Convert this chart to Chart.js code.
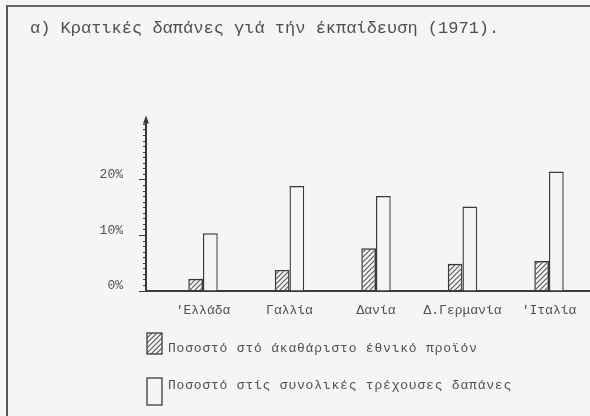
<!DOCTYPE html>
<html lang="el">
<head>
  <meta charset="UTF-8">
  <title>Κρατικές δαπάνες γιά τήν έκπαίδευση (1971)</title>
</head>
<style>
  body { margin: 0; background: #f5f5f3; }
  .sheet { position: relative; width: 590px; height: 416px; }
  .sheet::before {
    content: ''; position: absolute; left: 6px; top: 5px; right: 0; bottom: 0;
    border-left: 2px solid #555; border-top: 2px solid #666;
  }
</style>
<body>
<div class="sheet">
  <canvas id="eduChart" width="590" height="416"></canvas>
</div>

<script src="https://cdn.jsdelivr.net/npm/chart.js"></script>

<script>
  const TITLE = 'α) Κρατικές δαπάνες γιά τήν έκπαίδευση (1971).';
  const COUNTRIES = ["'Ελλάδα", 'Γαλλία', 'Δανία', 'Δ.Γερμανία', "'Ιταλία"];
  const GDP_SHARE = [2.2, 3.8, 7.7, 4.9, 5.4];          // % of GNP
  const BUDGET_SHARE = [10.4, 18.9, 17.1, 15.2, 21.5];  // % of total current spending
  const SERIES_NAMES = [
    'Ποσοστό στό άκαθάριστο έθνικό προϊόν',
    'Ποσοστό στίς συνολικές τρέχουσες δαπάνες'
  ];
  const Y_TICKS = [0, 10, 20];

  const FONT = "'Liberation Mono', 'DejaVu Sans Mono', monospace";
  const INK = '#3a3a3a';
  const TEXT = '#4f4f4f';

  function hatch() {
    const c = document.createElement('canvas');
    c.width = 5; c.height = 5;
    const g = c.getContext('2d');
    g.strokeStyle = '#555';
    g.lineWidth = 1.1;
    g.beginPath();
    g.moveTo(-1, 6); g.lineTo(6, -1);
    g.moveTo(-1, 1); g.lineTo(1, -1);
    g.moveTo(4, 6); g.lineTo(6, 4);
    g.stroke();
    return g.createPattern(c, 'repeat');
  }
  const HATCH = hatch();

  const toPoints = arr => arr.map((v, i) => ({ x: i + 1, y: v }));

  // arrow head on top of the y axis
  const axisArrow = {
    id: 'axisArrow',
    afterDraw(chart) {
      const { ctx, chartArea } = chart;
      const x = chartArea.left, y = chartArea.top;
      ctx.save();
      ctx.fillStyle = INK;
      ctx.strokeStyle = INK;
      ctx.lineWidth = 2;
      ctx.beginPath(); ctx.moveTo(x, y); ctx.lineTo(x, y - 4); ctx.stroke();
      ctx.beginPath();
      ctx.moveTo(x, y - 9); ctx.lineTo(x - 3, y - 1); ctx.lineTo(x + 3, y - 1);
      ctx.closePath(); ctx.fill();
      ctx.restore();
    }
  };

  // legend stacked under the x labels, typewriter style
  const stackedLegend = {
    id: 'stackedLegend',
    afterDraw(chart) {
      const { ctx, chartArea } = chart;
      const x = chartArea.left + 1;
      const rows = [
        { top: chartArea.bottom + 42, h: 21, mid: chartArea.bottom + 58 },
        { top: chartArea.bottom + 87, h: 27, mid: chartArea.bottom + 95 }
      ];
      ctx.save();
      chart.data.datasets.forEach((ds, i) => {
        const r = rows[i];
        ctx.fillStyle = ds.backgroundColor;
        ctx.fillRect(x, r.top, 15, r.h);
        ctx.strokeStyle = INK;
        ctx.lineWidth = 1.3;
        ctx.strokeRect(x, r.top, 15, r.h);
        ctx.fillStyle = TEXT;
        ctx.font = '13px ' + FONT;
        ctx.letterSpacing = '0.8px';
        ctx.textBaseline = 'middle';
        ctx.fillText(ds.label, x + 21, r.mid);
      });
      ctx.restore();
    }
  };

  new Chart(document.getElementById('eduChart'), {
    type: 'bar',
    data: {
      datasets: [
        {
          label: SERIES_NAMES[0],
          data: toPoints(GDP_SHARE),
          backgroundColor: HATCH,
          borderColor: INK,
          borderWidth: 1.4
        },
        {
          label: SERIES_NAMES[1],
          data: toPoints(BUDGET_SHARE),
          backgroundColor: '#f5f5f3',
          borderColor: INK,
          borderWidth: 1.4
        }
      ]
    },
    options: {
      responsive: false,
      animation: false,
      devicePixelRatio: 1,
      categoryPercentage: 0.34,
      barPercentage: 1,
      layout: { padding: { left: 30, top: 10, right: 0, bottom: 95 } },
      plugins: {
        legend: { display: false },
        tooltip: { enabled: false },
        title: {
          display: true,
          text: TITLE,
          align: 'start',
          color: TEXT,
          font: { family: FONT, size: 17, weight: 'normal' },
          padding: { top: 8, bottom: 86 }
        }
      },
      scales: {
        x: {
          type: 'linear',
          offset: false,
          min: 0.341,
          max: 5.474,
          grid: { display: false },
          border: { color: INK, width: 2 },
          ticks: {
            stepSize: 1,
            includeBounds: false,
            autoSkip: false,
            maxRotation: 0,
            padding: 4,
            color: TEXT,
            font: { family: FONT, size: 13 },
            callback: v => COUNTRIES[v - 1] || ''
          },
          afterFit: s => { s.height = 30; }
        },
        y: {
          min: 0,
          max: 30,
          border: { color: INK, width: 2 },
          grid: {
            drawOnChartArea: false,
            tickLength: 7,
            tickColor: INK,
            tickWidth: 1,
            tickBorderDash: ctx => Y_TICKS.includes(ctx.tick.value) ? [] : [0, 4, 2, 100]
          },
          ticks: {
            stepSize: 1,
            autoSkip: false,
            padding: 16,
            labelOffset: -5,
            color: TEXT,
            font: { family: FONT, size: 13 },
            callback: v => Y_TICKS.includes(v) ? v + '%' : ''
          },
          afterFit: s => { s.width = 116; }
        }
      }
    },
    plugins: [axisArrow, stackedLegend]
  });
</script>
</body>
</html>
